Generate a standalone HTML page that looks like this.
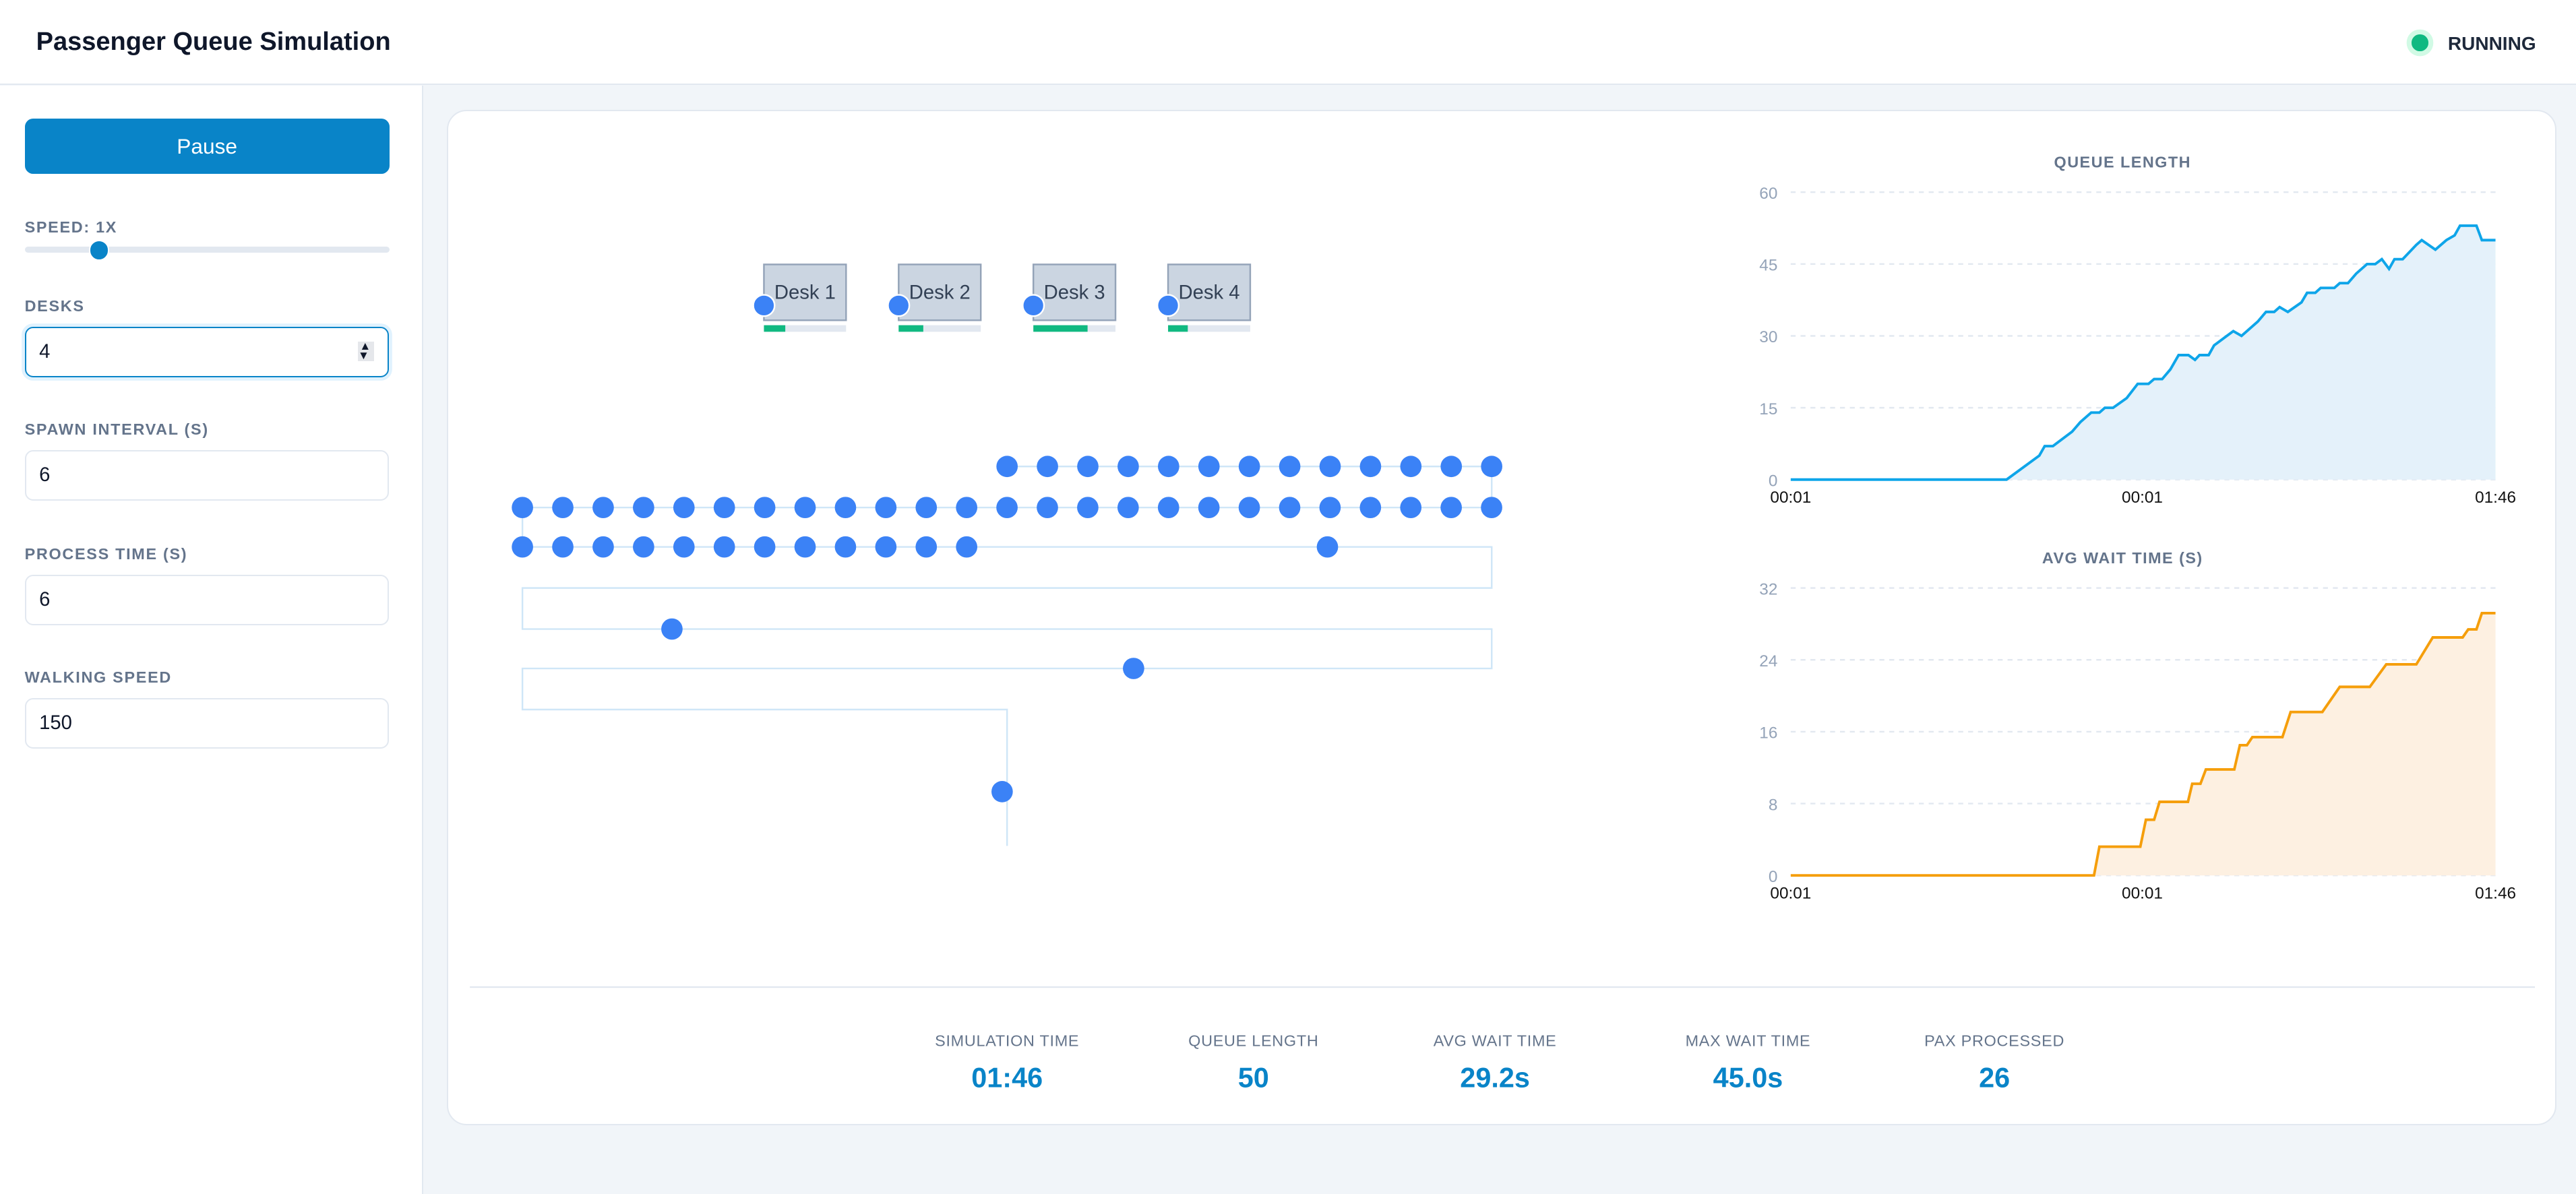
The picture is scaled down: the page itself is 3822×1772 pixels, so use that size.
<!DOCTYPE html>
<html><head><meta charset="utf-8">
<style>
html,body{margin:0;padding:0;}
body{width:1568px;height:727px;zoom:2.4375;background:#f1f5f9;font-family:"Liberation Sans",sans-serif;position:relative;overflow:hidden;}
.hdr{position:absolute;left:0;top:0;width:1568px;height:51px;background:#fff;border-bottom:1px solid #e2e8f0;}
.title{position:absolute;left:22px;top:17px;font-size:15.6px;font-weight:bold;color:#0f172a;}
.run{position:absolute;left:1490px;top:20px;font-size:11.5px;font-weight:bold;color:#1e293b;}
.gdot{position:absolute;left:1468px;top:21px;width:10px;height:10px;border-radius:50%;background:#10b981;box-shadow:0 0 0 3px #d1fae5;}
.side{position:absolute;left:0;top:52px;width:257px;height:675px;background:#fff;border-right:1px solid #e2e8f0;}
.btn{position:absolute;left:15px;top:20px;width:222px;height:34px;background:#0984c8;border-radius:5px;color:#fff;font-size:13px;text-align:center;line-height:34px;}
.lbl{position:absolute;left:15px;font-size:9.6px;letter-spacing:0.7px;color:#64748b;font-weight:bold;}
.inp{position:absolute;left:15px;width:220px;height:29px;border:1px solid #e2e8f0;border-radius:5px;font-size:12px;color:#0f172a;line-height:29px;text-indent:8px;box-sizing:content-box;}
.card{position:absolute;left:272px;top:67px;width:1284px;height:618px;background:#fff;border-radius:12px;border:1px solid #e2e8f0;box-sizing:border-box;}
</style></head><body>
<div class="hdr"><div class="title">Passenger Queue Simulation</div><div class="gdot"></div><div class="run">RUNNING</div></div>
<div class="side">
<div class="btn">Pause</div>
<div class="lbl" style="top:81px">SPEED: 1X</div>
<div style="position:absolute;left:15px;top:98px;width:222px;height:4px;background:#e2e8f0;border-radius:2px"></div>
<div style="position:absolute;left:54px;top:94px;width:11px;height:11px;border-radius:50%;background:#0984c8;border:1px solid #fff"></div>
<div class="lbl" style="top:129px">DESKS</div>
<div class="inp" style="top:147px;border-color:#0984c8;box-shadow:0 0 0 2px #e0f2fe">4<span style="position:absolute;right:8px;top:8px;width:10px;height:12px;background:#e5e7eb;font-size:7px;line-height:6px;text-indent:1px">▲<br>▼</span></div>
<div class="lbl" style="top:204px">SPAWN INTERVAL (S)</div>
<div class="inp" style="top:222px">6</div>
<div class="lbl" style="top:280px">PROCESS TIME (S)</div>
<div class="inp" style="top:298px">6</div>
<div class="lbl" style="top:355px">WALKING SPEED</div>
<div class="inp" style="top:373px">150</div>
</div>
<div class="card"></div>
<svg id="s" width="1568" height="727" style="position:absolute;left:0;top:0" font-family="Liberation Sans, sans-serif"></svg>
<script>
var s=document.getElementById('s'),h='';
var L='#cfe6f7';
h+='<path d="M613 284H908V309M318 309H908M318 309V333M318 333H908V358H318V383H908V407H318V432H613V515" fill="none" stroke="'+L+'" stroke-width="1"/>';
var g=[13,15,33,12];
for(var i=0;i<4;i++){var x=465+82*i;
h+='<rect x="'+x+'" y="161" width="50" height="34" fill="#cbd5e1" stroke="#94a3b8"/>';
h+='<text x="'+(x+25)+'" y="182" font-size="12" fill="#334155" text-anchor="middle">Desk '+(i+1)+'</text>';
h+='<rect x="'+x+'" y="198" width="50" height="4" fill="#e2e8f0"/><rect x="'+x+'" y="198" width="'+g[i]+'" height="4" fill="#10b981"/>';
h+='<circle cx="'+x+'" cy="186" r="6.5" fill="#3b82f6" stroke="#fff" stroke-width="1"/>';}
function d(x,y){h+='<circle cx="'+x+'" cy="'+y+'" r="6.5" fill="#3b82f6"/>';}
var st=24.58;
for(var k=0;k<13;k++)d(613+st*k,284);
for(k=0;k<25;k++)d(318+st*k,309);
for(k=0;k<12;k++)d(318+st*k,333);
d(808,333);d(409,383);d(690,407);d(610,482);
function chart(top,title,max,ticks,pts,col,fill){
 var y0=top+175, yv=function(v){return y0-v*175/max}, xv=function(z){return 1090+(z-130)*429/1290};
 h+='<text x="1292" y="'+(top-15)+'" font-size="9.6" font-weight="bold" letter-spacing="0.6" fill="#64748b" text-anchor="middle">'+title+'</text>';
 ticks.forEach(function(t){var y=yv(t);h+='<line x1="1090" x2="1519" y1="'+y+'" y2="'+y+'" stroke="#e2e8f0" stroke-dasharray="3,3"/><text x="1082" y="'+(y+4)+'" font-size="10" fill="#94a3b8" text-anchor="end">'+t+'</text>';});
 var p=pts.map(function(q){return xv(q[0]).toFixed(1)+','+yv(q[1]).toFixed(1)}).join(' ');
 h+='<polygon points="1090,'+y0+' '+p+' 1519,'+y0+'" fill="'+fill+'"/>';
 h+='<polyline points="'+p+'" fill="none" stroke="'+col+'" stroke-width="1.6"/>';
 [[1090,'00:01'],[1304,'00:01'],[1519,'01:46']].forEach(function(a){h+='<text x="'+a[0]+'" y="'+(y0+14)+'" font-size="10" fill="#111" text-anchor="middle">'+a[1]+'</text>';});
}
var q=[[130,0],[525,0],[585,5],[595,7],[610,7],[645,10],[660,12],[680,14],[695,14],[705,15],[720,15],[745,17],[765,20],[785,20],[795,21],[810,21],[825,23],[840,26],[858,26],[870,25],[878,26],[895,26],[905,28],[940,31],[955,30],[985,33],[1000,35],[1015,35],[1025,36],[1040,35],[1065,37],[1075,39],[1090,39],[1100,40],[1125,40],[1135,41],[1150,41],[1165,43],[1185,45],[1200,45],[1212,46],[1225,44],[1235,46],[1250,46],[1275,49],[1285,50],[1310,48],[1330,50],[1345,51],[1355,53],[1385,53],[1395,50],[1420,50]];
chart(117,'QUEUE LENGTH',60,[60,45,30,15,0],q,'#0ea5e9','#e4f1fa');
var w=[[130,0],[685,0],[695,3.2],[770,3.2],[780,6.2],[795,6.2],[805,8.2],[857,8.2],[865,10.2],[880,10.2],[890,11.8],[942,11.8],[952,14.5],[965,14.5],[975,15.4],[1030,15.4],[1045,18.2],[1103,18.2],[1135,21],[1190,21],[1220,23.5],[1275,23.5],[1305,26.5],[1360,26.5],[1370,27.4],[1385,27.4],[1395,29.2],[1420,29.2]];
chart(358,'AVG WAIT TIME (S)',32,[32,24,16,8,0],w,'#f59e0b','#fdf0e1');
h+='<line x1="286" x2="1543" y1="601" y2="601" stroke="#e2e8f0"/>';
[[613,'SIMULATION TIME','01:46'],[763,'QUEUE LENGTH','50'],[910,'AVG WAIT TIME','29.2s'],[1064,'MAX WAIT TIME','45.0s'],[1214,'PAX PROCESSED','26']].forEach(function(a){
h+='<text x="'+a[0]+'" y="637" font-size="9.6" letter-spacing="0.3" fill="#64748b" text-anchor="middle">'+a[1]+'</text>';
h+='<text x="'+a[0]+'" y="662" font-size="17" font-weight="bold" fill="#0984c8" text-anchor="middle">'+a[2]+'</text>';});
s.innerHTML=h;
</script>
</body></html>
